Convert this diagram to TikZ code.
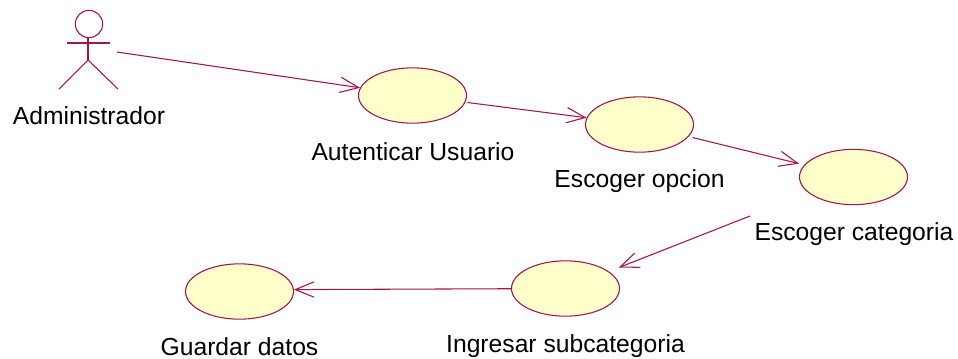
\documentclass[tikz,border=0pt]{standalone}
\usepackage{fontspec}
\setmainfont{Liberation Sans}
\usepackage{tikz}
\usetikzlibrary{arrows.meta,shapes.geometric}
\definecolor{umlline}{HTML}{A5144A}
\definecolor{umlfill}{HTML}{FFFFCB}

\begin{document}
\begin{tikzpicture}[x=0.75pt,y=-0.75pt,
        usecase/.style={ellipse,draw=umlline,fill=umlfill,line width=0.8pt,minimum width=81pt,minimum height=41.5pt,inner sep=0pt},
        caption/.style={font=\fontsize{18.5pt}{22pt}\selectfont,text=black,inner sep=0pt,anchor=base},
        link/.style={draw=umlline,line width=0.8pt,-{Straight Barb[length=14pt,width=11.5pt,line width=0.8pt]}}]
        \useasboundingbox (0,0) rectangle (958,358);

        \node[circle,draw=umlline,line width=0.8pt,minimum size=20.5pt,inner sep=0pt] (head) at (89,24) {};
        \coordinate (neck) at (88,37);
        \coordinate (hip) at (88,60);
        \coordinate (armleft) at (67,43);
        \coordinate (armright) at (110,43);
        \coordinate (legleft) at (59,89);
        \coordinate (legright) at (118,89);
        \draw[umlline,line width=0.8pt] (neck) -- (hip);
        \draw[umlline,line width=0.8pt] (armleft) -- (armright);
        \draw[umlline,line width=0.8pt] (legleft) -- (hip) -- (legright);

        \node[usecase] (autenticar) at (412.5,95.5) {};
        \node[usecase] (opcion) at (639.5,124.5) {};
        \node[usecase] (categoria) at (853.5,177) {};
        \node[usecase] (subcategoria) at (565.5,288.5) {};
        \node[usecase] (guardar) at (239.5,291.5) {};

        \node[caption] (administradorlabel) at (89,124) {Administrador};
        \node[caption] (autenticarlabel) at (413,160) {Autenticar Usuario};
        \node[caption] (opcionlabel) at (639.5,187) {Escoger opcion};
        \node[caption] (categorialabel) at (854,240) {Escoger categoria};
        \node[caption] (subcategorialabel) at (565.5,352) {Ingresar subcategoria};
        \node[caption] (guardarlabel) at (239.5,355) {Guardar datos};

        \coordinate (actorend) at (117,52);
        \coordinate (categoriaend) at (750,216);

        \draw[link] (actorend) -- (autenticar);
        \draw[link,shorten <=1.5pt] (autenticar) -- (opcion);
        \draw[link,shorten <=3pt,shorten >=4pt] (opcion) -- (categoria);
        \draw[link,shorten >=8pt] (categoriaend) -- (subcategoria);
        \draw[link] (subcategoria) -- (guardar.2);
    \end{tikzpicture}
\end{document}
